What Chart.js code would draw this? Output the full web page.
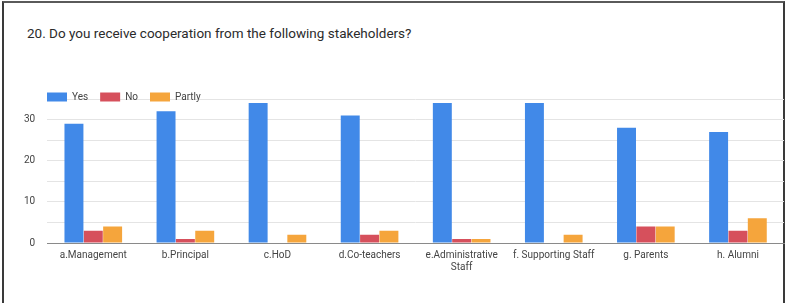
<!DOCTYPE html>
<html>
<head>
<meta charset="utf-8">
<script src="https://cdn.jsdelivr.net/npm/chart.js@4.4.0/dist/chart.umd.min.js"></script>
<style>
  html, body { margin: 0; padding: 0; background: #fff; }
  #frame {
    position: absolute; left: 2px; top: 1px; width: 779px; height: 302px;
    border-left: 2px solid #3a3a3a; border-top: 2px solid #5a5a5a; border-right: 2px solid #3a3a3a;
  }
  #title {
    position: absolute; left: 27px; top: 25px;
    font-family: Roboto, "Liberation Sans", sans-serif; font-size: 13.5px; color: #2b2b2b;
  }
  #wrap { position: absolute; left: 0; top: 0; width: 785px; height: 303px; }
</style>
</head>
<body>
<div id="frame"></div>
<div id="title">20. Do you receive cooperation from the following stakeholders?</div>
<div id="wrap"><canvas id="coopChart"></canvas></div>
<script>
  var stakeholders = ['a.Management', 'b.Principal', 'c.HoD', 'd.Co-teachers',
    ['e.Administrative', 'Staff'], 'f. Supporting Staff', 'g. Parents', 'h. Alumni'];
  var yesCounts = [29, 32, 34, 31, 34, 34, 28, 27];
  var noCounts = [3, 1, 0, 2, 1, 0, 4, 3];
  var partlyCounts = [4, 3, 2, 3, 1, 2, 4, 6];
  var yTicks = [0, 10, 20, 30];

  Chart.defaults.font.family = 'Roboto, "Liberation Sans", sans-serif';
  Chart.defaults.color = '#444';

  // legend in the form overlaps the top of the plot a bit:
  // take less room in the layout, then widen the box again so nothing gets clipped
  var tightLegend = {
    id: 'tightLegend',
    beforeInit: function(chart) {
      var fit = chart.legend.fit;
      chart.legend.fit = function() {
        fit.bind(chart.legend)();
        this.height -= 13;
      };
    },
    afterLayout: function(chart) {
      var lg = chart.legend;
      var shift = 35 - lg.left;
      lg.left += shift;
      lg.right += shift;
      lg.bottom = lg.top + 34;
    }
  };

  var ctx = document.getElementById('coopChart').getContext('2d');
  var chart = new Chart(ctx, {
    type: 'bar',
    data: {
      labels: stakeholders,
      datasets: [{
          label: 'Yes',
          backgroundColor: '#4189e8',
          data: yesCounts
        },
        {
          label: 'No',
          backgroundColor: '#d6505c',
          data: noCounts
        },
        {
          label: 'Partly',
          backgroundColor: '#f5a53c',
          data: partlyCounts
        }
      ]
    },
    options: {
      responsive: true,
      maintainAspectRatio: false,
      animation: false,
      layout: {
        padding: { left: 12, right: 1, top: 80, bottom: 24 }
      },
      datasets: {
        bar: { categoryPercentage: 0.63, barPercentage: 0.98 }
      },
      plugins: {
        legend: {
          position: 'top',
          align: 'start',
          labels: {
            boxWidth: 20,
            boxHeight: 9,
            padding: 12,
            color: '#444',
            font: { size: 10 }
          }
        },
        tooltip: { enabled: false }
      },
      scales: {
        x: {
          grid: { display: false, drawTicks: false },
          border: { color: '#8a8a8a' },
          ticks: { color: '#444', font: { size: 10 }, maxRotation: 0, autoSkip: false, padding: 6 }
        },
        y: {
          min: 0,
          max: 35,
          border: { display: false },
          grid: { color: '#e4e4e4', drawTicks: false },
          ticks: {
            stepSize: 5,
            padding: 12,
            color: '#444',
            font: { size: 10 },
            callback: function(v) { return yTicks.indexOf(v) >= 0 ? v : ''; }
          }
        }
      }
    },
    plugins: [tightLegend]
  });
</script>
</body>
</html>
